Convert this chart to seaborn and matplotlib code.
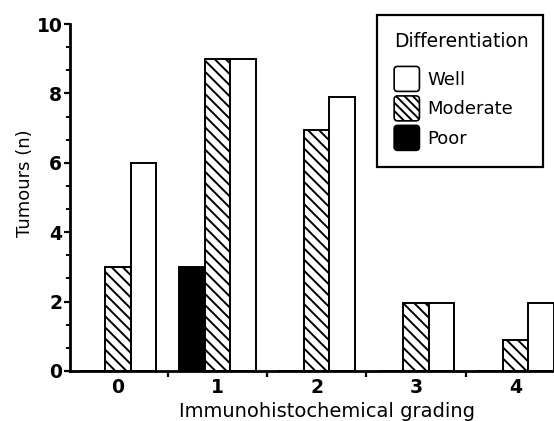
import numpy as np
import pandas as pd
import matplotlib
matplotlib.use("Agg")
import matplotlib.pyplot as plt
from matplotlib.patches import Patch, FancyBboxPatch
from matplotlib.legend_handler import HandlerPatch
from matplotlib.ticker import MultipleLocator, FixedLocator
import seaborn as sns

# data
grades = ["0", "1", "2", "3", "4"]
poor = [0, 3, 0, 0, 0]
moderate = [3, 9, 6.95, 1.95, 0.9]
well = [6, 9, 7.9, 1.95, 1.95]

levels = ["Poor", "Moderate", "Well"]
colors = {"Poor": "black", "Moderate": "white", "Well": "white"}
hatches = {"Poor": "", "Moderate": "\\" * 3, "Well": ""}

df = pd.DataFrame({
    "grade": grades * 3,
    "diff": ["Poor"] * 5 + ["Moderate"] * 5 + ["Well"] * 5,
    "n": poor + moderate + well,
})

sns.set_style("white")
plt.rcParams["font.family"] = ["DejaVu Sans"]
plt.rcParams["hatch.linewidth"] = 1.4
for key in ["text.color", "axes.labelcolor", "xtick.color", "ytick.color"]:
    plt.rcParams[key] = "black"

fig = plt.figure(figsize=(5.54, 4.21), dpi=100)
ax = fig.add_axes([70 / 554, 50 / 421, 484 / 554, 347 / 421])

sns.barplot(data=df, x="grade", y="n", hue="diff", hue_order=levels,
            palette=colors, width=0.77, edgecolor="black", linewidth=1.4,
            saturation=1, legend=False, ax=ax)

for cont, lev in zip(ax.containers, levels):
    for bar in cont:
        bar.set_hatch(hatches[lev])
        bar.set_facecolor(colors[lev])
        bar.set_edgecolor("black")

ax.set_xlim(-0.484, 4.39)
ax.set_ylim(0, 10)
sns.despine(ax=ax)
for side in ["left", "bottom"]:
    ax.spines[side].set_linewidth(2)
    ax.spines[side].set_color("black")

ax.yaxis.set_major_locator(MultipleLocator(2))
ax.yaxis.set_minor_locator(MultipleLocator(2 / 3))
ax.xaxis.set_minor_locator(FixedLocator([0.5, 1.5, 2.5, 3.5]))
ax.tick_params(axis="y", which="major", direction="out", length=4, width=1.6,
               pad=1.5, left=True)
ax.tick_params(axis="y", which="minor", direction="out", length=3, width=1.4,
               left=True)
ax.tick_params(axis="x", which="major", length=0, pad=5)
ax.tick_params(axis="x", which="minor", direction="out", length=4, width=1.6,
               bottom=True)
for lab in ax.get_xticklabels() + ax.get_yticklabels():
    lab.set_fontweight("bold")
    lab.set_fontsize(13.5)

ax.set_xlabel("Immunohistochemical grading", fontsize=14, labelpad=3)
ax.xaxis.set_label_coords(0.531, -0.088)
ax.set_ylabel("Tumours (n)", fontsize=13, labelpad=8)
ax.yaxis.set_label_coords(-0.075, 0.54)


def rounded_box(legend, orig_handle, xdescent, ydescent, width, height, fontsize):
    return FancyBboxPatch((-xdescent, -ydescent), width, height,
                          boxstyle="round,pad=0,rounding_size=2.5")


handles = [Patch(facecolor=colors[l], edgecolor="black",
                 hatch=hatches[l] + "\\" if hatches[l] else "",
                 linewidth=1.2, label=l) for l in ["Well", "Moderate", "Poor"]]
leg = ax.legend(handles=handles, title="Differentiation", loc="upper left",
                bbox_to_anchor=(377 / 554, 1 - 15 / 421 - 0.01, 166 / 554, 0.01),
                bbox_transform=fig.transFigure, mode="expand", fontsize=13,
                title_fontsize=13.5, alignment="left", fancybox=False,
                framealpha=1, edgecolor="black", handlelength=1.4,
                handleheight=1.75, labelspacing=0.25, handletextpad=0.45,
                borderpad=0.95, borderaxespad=0,
                handler_map={Patch: HandlerPatch(patch_func=rounded_box)})
leg.get_frame().set_linewidth(1.6)
leg._legend_box.sep = 11

fig.savefig("out.png", dpi=100)
